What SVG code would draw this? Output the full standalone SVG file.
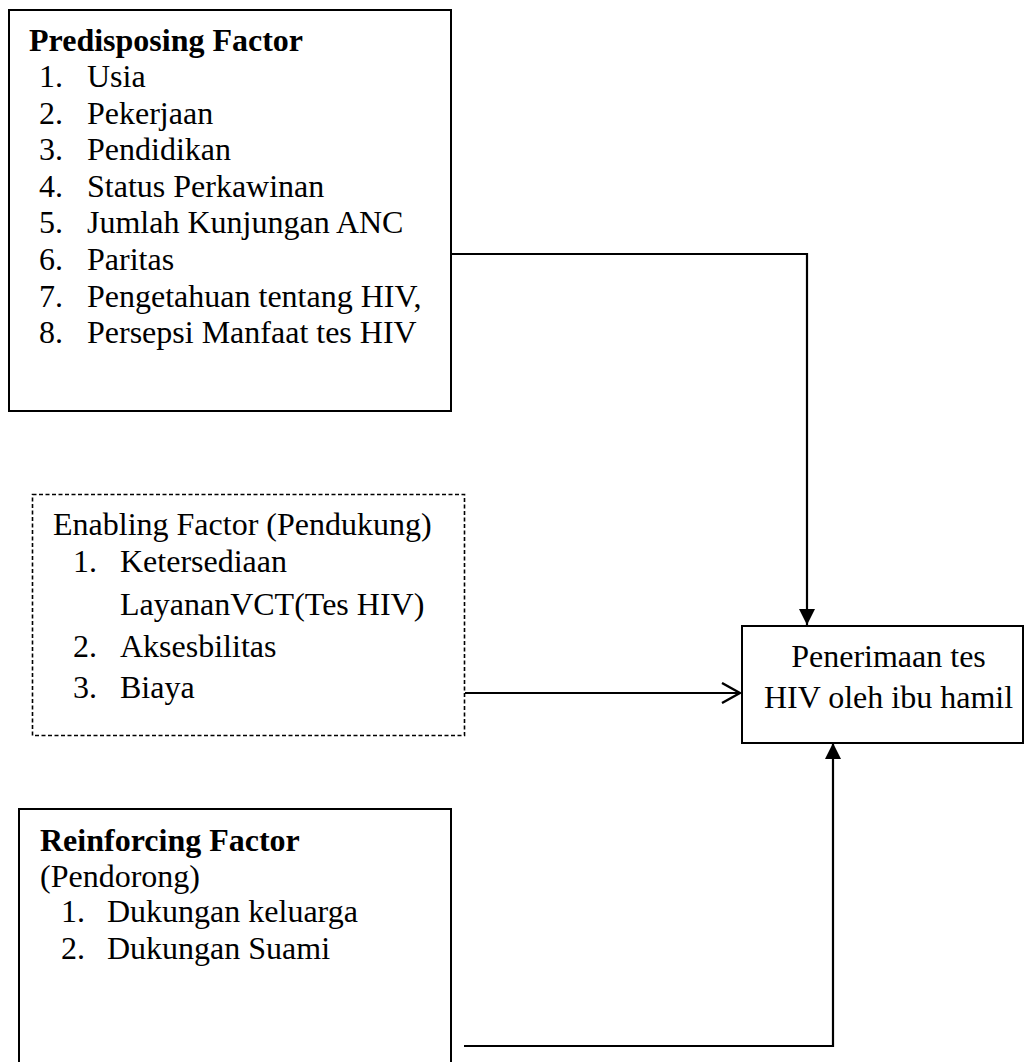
<svg xmlns="http://www.w3.org/2000/svg" width="1025" height="1062" viewBox="0 0 1025 1062">
<defs>
<style>
text{font-family:"Liberation Serif","Times New Roman",serif;font-size:32px;fill:#000}
.b{font-weight:bold}
.box{fill:#fff;stroke:#000;stroke-width:2}
.dash{fill:#fff;stroke:#000;stroke-width:1.6;stroke-dasharray:4 2.5}
.con{fill:none;stroke:#000;stroke-width:2.2}
</style>
<marker id="tri" viewBox="0 0 16 16" refX="16" refY="8" markerWidth="16" markerHeight="16" markerUnits="userSpaceOnUse" orient="auto">
<path d="M0,0 L16,8 L0,16 Z" fill="#000"/>
</marker>
<marker id="open" viewBox="0 0 20 22" refX="19" refY="11" markerWidth="20" markerHeight="22" markerUnits="userSpaceOnUse" orient="auto">
<path d="M1,1 L19,11 L1,21" fill="none" stroke="#000" stroke-width="2.4"/>
</marker>
</defs>
<rect width="1025" height="1062" fill="#fff"/>
<g id="connectors">
<path class="con" d="M451,254 H807 V625" marker-end="url(#tri)"/>
<path class="con" d="M465,693 H740" marker-end="url(#open)"/>
<path class="con" d="M464,1046 H833 V743" marker-end="url(#tri)"/>
</g>
<g id="predisposing">
<rect class="box" x="9" y="10" width="442" height="401"/>
<text class="b" x="29" y="51">Predisposing Factor</text>
<text x="39" y="87">1.</text><text x="87" y="87">Usia</text>
<text x="39" y="124">2.</text><text x="87" y="124">Pekerjaan</text>
<text x="39" y="160">3.</text><text x="87" y="160">Pendidikan</text>
<text x="39" y="197">4.</text><text x="87" y="197">Status Perkawinan</text>
<text x="39" y="233">5.</text><text x="87" y="233">Jumlah Kunjungan ANC</text>
<text x="39" y="270">6.</text><text x="87" y="270">Paritas</text>
<text x="39" y="307">7.</text><text x="87" y="307">Pengetahuan tentang HIV,</text>
<text x="39" y="343">8.</text><text x="87" y="343">Persepsi Manfaat tes HIV</text>
</g>
<g id="enabling">
<rect class="dash" x="32.5" y="494.5" width="432" height="241"/>
<text x="53" y="535">Enabling Factor (Pendukung)</text>
<text x="73" y="572">1.</text><text x="120" y="572">Ketersediaan</text>
<text x="120" y="615">LayananVCT(Tes HIV)</text>
<text x="73" y="657">2.</text><text x="120" y="657">Aksesbilitas</text>
<text x="73" y="698">3.</text><text x="120" y="698">Biaya</text>
</g>
<g id="penerimaan">
<rect class="box" x="742" y="626" width="281" height="117"/>
<text x="888.5" y="667" text-anchor="middle">Penerimaan tes</text>
<text x="888.5" y="708" text-anchor="middle">HIV oleh ibu hamil</text>
</g>
<g id="reinforcing">
<rect class="box" x="19" y="809" width="432" height="270"/>
<text class="b" x="40" y="851">Reinforcing Factor</text>
<text x="40" y="887">(Pendorong)</text>
<text x="61" y="922">1.</text><text x="107" y="922">Dukungan keluarga</text>
<text x="61" y="959">2.</text><text x="107" y="959">Dukungan Suami</text>
</g>
</svg>
